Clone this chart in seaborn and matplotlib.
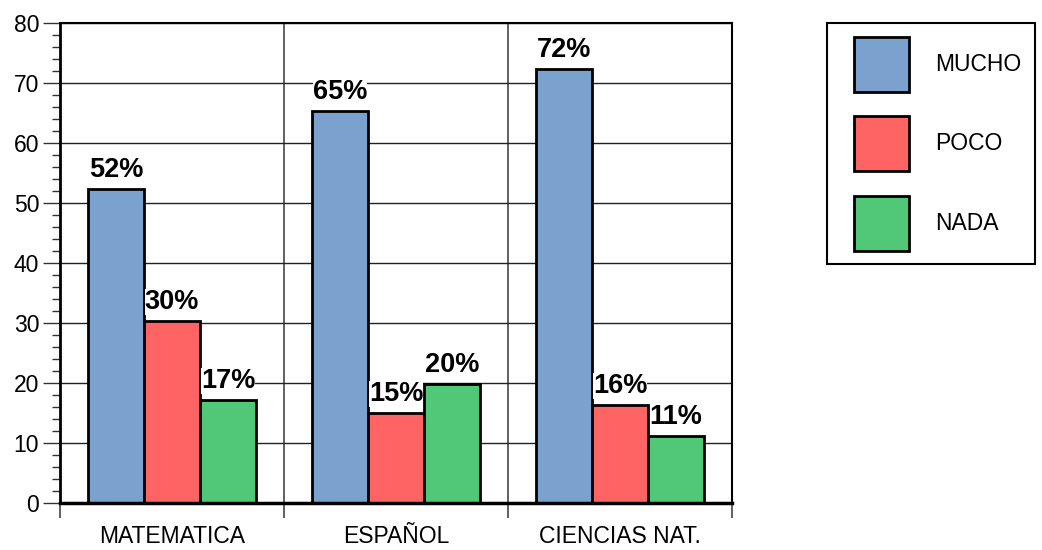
import matplotlib
matplotlib.use("Agg")
import matplotlib.pyplot as plt
import seaborn as sns
import pandas as pd
from matplotlib.ticker import MultipleLocator, FixedLocator
from matplotlib.patches import Patch, Rectangle
from matplotlib.legend_handler import HandlerPatch

categories = ["MATEMATICA", "ESPAÑOL", "CIENCIAS NAT."]
series = ["MUCHO", "POCO", "NADA"]
mucho = [52.3, 65.3, 72.3]
poco = [30.4, 15.0, 16.4]
nada = [17.2, 19.8, 11.2]
value_labels = {
    "MUCHO": ["52%", "65%", "72%"],
    "POCO": ["30%", "15%", "16%"],
    "NADA": ["17%", "20%", "11%"],
}
colors = ["#7BA2CF", "#FF6464", "#50C878"]

rows = []
for s, vals in zip(series, [mucho, poco, nada]):
    for c, v in zip(categories, vals):
        rows.append({"cat": c, "serie": s, "val": v})
df = pd.DataFrame(rows)

sns.set_style("white")
plt.rcParams["font.family"] = ["Liberation Sans", "DejaVu Sans"]
plt.rcParams["text.color"] = "black"
plt.rcParams["xtick.color"] = "black"
plt.rcParams["ytick.color"] = "black"
plt.rcParams["axes.labelcolor"] = "black"

fig = plt.figure(figsize=(10.42, 5.5), dpi=100)
ax = fig.add_axes([60 / 1042, 47 / 550, 672 / 1042, 480 / 550])

sns.barplot(data=df, x="cat", y="val", hue="serie", order=categories,
            hue_order=series, palette=colors, saturation=1, width=0.75,
            gap=0, edgecolor="black", linewidth=2, errorbar=None, ax=ax,
            legend=False)

ax.set_xlim(-0.5, 2.5)
ax.set_ylim(0, 80)
ax.set_xlabel("")
ax.set_ylabel("")
ax.set_axisbelow(True)

# y ticks
ax.yaxis.set_major_locator(MultipleLocator(10))
ax.yaxis.set_minor_locator(MultipleLocator(2))
ax.tick_params(axis="y", which="major", length=12, width=1, color="#333333",
               labelsize=16.5, pad=3, left=True, labelcolor="black")
ax.tick_params(axis="y", which="minor", length=6, width=1, color="#333333",
               left=True)
ax.yaxis.grid(True, which="major", color="#222222", linewidth=1)

# x ticks
ax.xaxis.set_minor_locator(FixedLocator([-0.5, 0.5, 1.5, 2.5]))
ax.tick_params(axis="x", which="major", length=0, labelsize=16.5, pad=16,
               labelcolor="black")
ax.tick_params(axis="x", which="minor", length=11, width=1.2,
               color="#444444", bottom=True)
ax.xaxis.grid(True, which="minor", color="#555555", linewidth=1.3)
ax.xaxis.grid(False, which="major")

for side, lw in [("left", 2), ("bottom", 2.5), ("top", 1.5), ("right", 1.5)]:
    ax.spines[side].set_visible(True)
    ax.spines[side].set_color("black")
    ax.spines[side].set_linewidth(lw)

# value labels
for container, s in zip(ax.containers, series):
    for bar, lab in zip(container, value_labels[s]):
        x = bar.get_x() + bar.get_width() / 2
        y = bar.get_height()
        ax.annotate(lab, (x, y), xytext=(0, 8.5), textcoords="offset points",
                    ha="center", va="baseline", fontsize=19.5,
                    fontweight="bold", color="black",
                    bbox=dict(facecolor="white", edgecolor="none", pad=0))


# legend: square swatches, inset from the left of their handle box
def square_patch(legend, orig_handle, xdescent, ydescent, width, height,
                 fontsize):
    off = width * 13 / 68
    return Rectangle((-xdescent + off, -ydescent), width - off, height)


handles = [Patch(facecolor=c, edgecolor="black", linewidth=2) for c in colors]
leg = fig.legend(handles, series, loc="upper left",
                 bbox_to_anchor=(827 / 1042, 527 / 550),
                 bbox_transform=fig.transFigure, fontsize=16.5,
                 handlelength=68 / 23, handleheight=3.3, labelspacing=1.08,
                 handletextpad=27 / 23, borderpad=0.6, borderaxespad=0,
                 fancybox=False, framealpha=1, edgecolor="black",
                 handler_map={Patch: HandlerPatch(patch_func=square_patch)})
leg.get_frame().set_linewidth(1.5)

fig.savefig("out.png", dpi=100)
